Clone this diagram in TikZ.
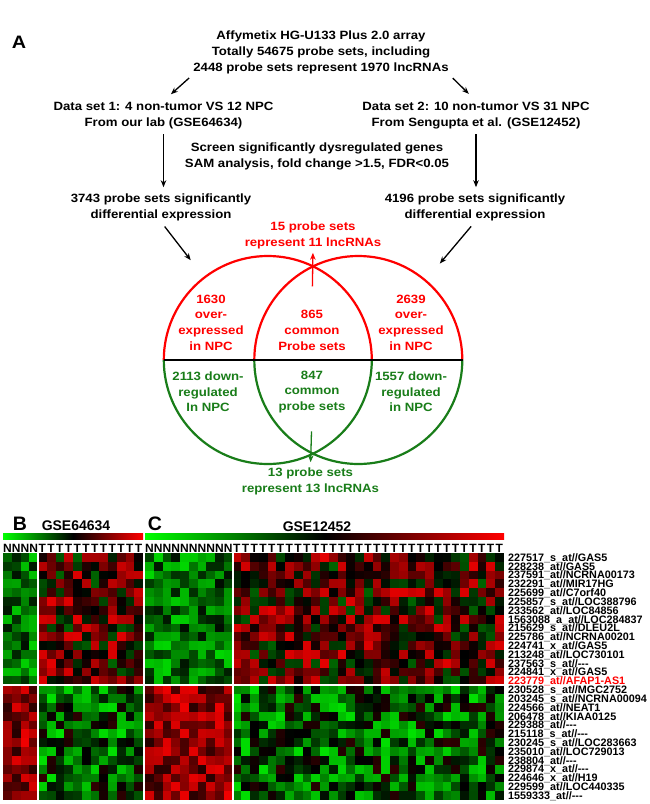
\documentclass[tikz,border=0pt]{standalone}
\usepackage{fontspec}
\setmainfont{Liberation Sans}
\newfontfamily\widesf{Liberation Sans}[FakeStretch=1.1]
\usepackage{tikz}
\usepackage{xcolor}
\usetikzlibrary{positioning, arrows.meta, calc}

\definecolor{vgreen}{RGB}{25,125,25}

\begin{document}
\begin{tikzpicture}[
  x=1pt, y=-1pt,
  >={Stealth[length=7pt,width=5.5pt]},
  every node/.style={font=\widesf\bfseries\fontsize{12}{16}\selectfont, align=center, inner sep=1pt},
  flow/.style={->, line width=1.3pt},
  venntext/.style={font=\widesf\bfseries\fontsize{12}{15.7}\selectfont},
  vennup/.style={red, line width=2.2pt},
  venndown/.style={vgreen, line width=2.2pt},
  panel/.style={font=\bfseries\fontsize{19.5}{19.5}\selectfont, inner sep=0pt},
  gsetitle/.style={font=\bfseries\fontsize{14}{14}\selectfont, inner sep=0pt},
  probe/.style={font=\bfseries\fontsize{10.8}{10.8}\selectfont, anchor=west, inner sep=0pt, text height=7.7pt, text depth=0pt},
  sample/.style={font=\bfseries\fontsize{12}{12}\selectfont, inner sep=0pt, text height=8.6pt, text depth=0pt}
]
\path[use as bounding box, fill=white] (0,0) rectangle (650,804);

% Panel A: workflow
\node[panel, font=\widesf\bfseries\fontsize{18}{18}\selectfont] (pa) at (19,42) {A};
\node (title) at (321,52.5) {Affymetix HG-U133 Plus 2.0 array\\Totally 54675 probe sets, including\\2448 probe sets represent 1970 lncRNAs};
\node (set1) at (163.5,115.5) {Data set 1: 4 non-tumor VS 12 NPC\\From our lab (GSE64634)};
\node (set2) at (476,115.5) {Data set 2: 10 non-tumor VS 31 NPC\\From Sengupta et al. (GSE12452)};
\node (screen) at (317,156) {Screen significantly dysregulated genes\\SAM analysis, fold change >1.5, FDR<0.05};
\node (diff1) at (161,207) {3743 probe sets significantly\\differential expression};
\node (diff2) at (475,207) {4196 probe sets significantly\\differential expression};
\node[red] (up15) at (313,235) {15 probe sets\\represent 11 lncRNAs};

% Venn sets
\node[circle, minimum size=208pt, inner sep=0pt] (lset) at (268,360) {};
\node[circle, minimum size=208pt, inner sep=0pt] (rset) at (358.5,360) {};
\draw[vennup] (lset.west) arc[start angle=180, end angle=360, radius=104];
\draw[vennup] (rset.west) arc[start angle=180, end angle=360, radius=104];
\draw[venndown] (lset.west) arc[start angle=180, end angle=0, radius=104];
\draw[venndown] (rset.west) arc[start angle=180, end angle=0, radius=104];
\draw[line width=2.4pt] (lset.west) -- (rset.east);

\node[venntext, red] (over1) at (211,322.5) {1630\\over-\\expressed\\in NPC};
\node[venntext, red] (comup) at (312,330.5) {865\\common\\Probe sets};
\node[venntext, red] (over2) at (411,322.5) {2639\\over-\\expressed\\in NPC};
\node[venntext, vgreen] (down1) at (208,392) {2113 down-\\regulated\\In NPC};
\node[venntext, vgreen] (comdn) at (312,392) {847\\common\\probe sets};
\node[venntext, vgreen] (down2) at (411,392) {1557 down-\\regulated\\in NPC};
\node[vgreen] (dn13) at (310.5,481) {13 probe sets\\represent 13 lncRNAs};

% Arrows
\draw[flow, shorten <=4pt, shorten >=10pt] (title.south west) -- (set1.north);
\draw[flow, shorten <=4pt, shorten >=10pt] (title.south east) -- (set2.north);
\draw[flow, shorten <=4pt, shorten >=5pt] (set1.south) -- (set1.south |- diff1.north);
\draw[flow, shorten <=4pt, shorten >=5pt] (set2.south) -- (set2.south |- diff2.north);
\draw[flow, shorten <=6pt, shorten >=22pt] (diff1.south) -- (lset);
\draw[flow, shorten <=6pt, shorten >=22pt] (diff2.south) -- (rset);
\draw[flow, red, shorten <=23pt, shorten >=3pt] (comup.north) -- (up15.south);
\draw[flow, vgreen, shorten <=17pt, shorten >=4pt] (comdn.south) -- (dn13.north);

% Panels B and C: heatmaps
\node[panel] (pb) at (20,524) {B};
\node[gsetitle] (gse1) at (76,526) {GSE64634};
\node[panel] (pc) at (155,524) {C};
\node[gsetitle] (gse2) at (317,527) {GSE12452};

\shade[left color=green, right color=red, middle color=black] (3,533) rectangle (143,539.5);
\shade[left color=green, right color=red, middle color=black] (145,533) rectangle (504,539.5);

\foreach \c in {0,...,15}{
  \pgfmathsetmacro\xx{3+8.75*(\c+0.5)}
  \node[sample] (b-\c) at (\xx,548) {\ifnum\c<4 N\else T\fi};
}
\foreach \c in {0,...,40}{
  \pgfmathsetmacro\xx{145+8.75*(\c+0.5)}
  \node[sample] (c-\c) at (\xx,548) {\ifnum\c<10 N\else T\fi};
}

\pgfmathsetseed{1234}
\foreach \r in {0,...,27}{
  \foreach \c in {0,...,56}{
    \pgfmathtruncatemacro\isn{((\c<4)||((\c>15)&&(\c<26)))}
    \pgfmathsetmacro\val{\r<15 ? (\isn ? -0.45+0.4*rand : 0.25+0.65*rand) : (\isn ? 0.55+0.4*rand : -0.35+0.55*rand)}
    \pgfmathtruncatemacro\pct{min(100,abs(\val)*100)}
    \pgfmathsetmacro\xx{\c<16 ? 3+8.75*\c : 145+8.75*(\c-16)}
    \ifdim\val pt<0pt \def\hue{green}\else\def\hue{red}\fi
    \fill[\hue!\pct!black] (\xx,553+8.82*\r) rectangle ++(8.8,8.85);
  }
}
\draw[white, line width=2pt] (38,553) -- (38,800);
\draw[white, line width=2pt] (232.5,553) -- (232.5,800);
\draw[white, line width=2pt] (3,685.3) -- (504,685.3);

\foreach \lab [count=\i from 0] in {
  227517\_s\_at//GAS5, 228238\_at//GAS5, 237591\_at//NCRNA00173,
  232291\_at//MIR17HG, 225699\_at//C7orf40, 225857\_s\_at//LOC388796,
  233562\_at//LOC84856, 1563088\_a\_at//LOC284837, 215629\_s\_at//DLEU2L,
  225786\_at//NCRNA00201, 224741\_x\_at//GAS5, 213248\_at//LOC730101,
  237563\_s\_at//-{}-{}-, 224841\_x\_at//GAS5, \textcolor{red}{223779\_at//AFAP1-AS1},
  230528\_s\_at//MGC2752, 203245\_s\_at//NCRNA00094, 224566\_at//NEAT1,
  206478\_at//KIAA0125, 229388\_at//-{}-{}-, 215118\_s\_at//-{}-{}-,
  230245\_s\_at//LOC283663, 235010\_at//LOC729013, 238804\_at//-{}-{}-,
  229874\_x\_at//-{}-{}-, 224646\_x\_at//H19, 229599\_at//LOC440335,
  1559333\_at//-{}-{}-}{
  \node[probe] (probe-\i) at (508,557.41+8.82*\i) {\lab};
}

\end{tikzpicture}
\end{document}
